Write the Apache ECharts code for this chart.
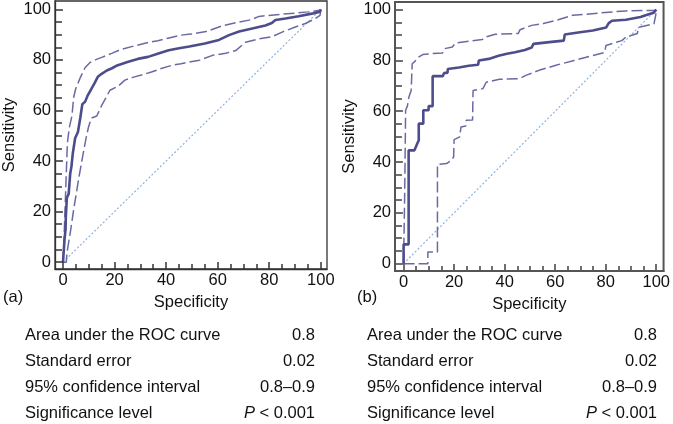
<!DOCTYPE html>
<html>
<head>
<meta charset="utf-8">
<script src="https://cdn.jsdelivr.net/npm/echarts@6/dist/echarts.min.js"></script>
<style>
html,body{margin:0;padding:0;background:#fff;}
#chart{width:673px;height:424px;}
</style>
</head>
<body>
<div id="chart"></div>
<script>
// ---------- data ----------
const tickLabels = [0, 20, 40, 60, 80, 100];
const tickMarks = [0, 5, 10, 15, 20, 25, 30, 35, 40, 45, 50, 55, 60, 65, 70, 75, 80, 85, 90, 95, 100];
const xAxisName = 'Specificity';
const yAxisName = 'Sensitivity';
const panelLabels = ['(a)', '(b)'];

const diagonal = [[0, 0], [100, 100]];

const rocA = [[0,0],[0.3,0],[0.6,9],[1.0,13],[1.1,18],[1.5,25.5],[2.2,27],[2.8,35],[3.3,38],[3.8,43],[4.7,49],[5.8,51.5],[6.7,57],[7.5,62.5],[8.6,63.5],[9.6,66],[11,68.5],[12.2,70.7],[13.5,73.3],[15,74.5],[17,75.8],[19,76.7],[21,77.8],[25,79.2],[29,80.4],[33,81.2],[37,82.5],[41,83.8],[45,84.6],[49,85.3],[55,86.5],[60.5,87.9],[64.4,89.8],[68.3,91.2],[73.4,92.4],[78.5,93.6],[81,94.6],[82.4,95.8],[86.3,96.4],[91.4,97.3],[96.5,98.3],[99.7,99.1],[100,100]];
const upperA = [[0,0],[0.4,9],[0.8,21],[1.2,33],[1.7,47],[2.4,53],[3.5,58],[4.1,65],[4.9,68.5],[6.7,73],[8.6,77],[10.5,79],[12.5,80],[15,81],[18.9,82.6],[22.7,84.2],[27.9,85.6],[33,86.9],[36.8,87.6],[40.7,88.6],[45.8,89.8],[49.6,90.2],[55.5,91.2],[61.9,93.5],[68.3,95],[73,95.9],[76,97.2],[85,98.1],[90.1,98.5],[95,99],[99.1,99.5],[100,100]];
const lowerA = [[0,0],[1.3,0],[1.5,3.5],[2.8,11.5],[4.1,20.5],[6,32.5],[7.3,40],[8.8,48.3],[9.9,53.5],[11,57],[13.1,57.8],[15,62],[16.9,65.5],[18.2,68],[21.4,69.6],[24,72],[27.4,73.2],[30.4,74],[34.3,75.2],[38.1,76.6],[42,77.8],[45.8,78.5],[49.6,79.3],[52.9,79.9],[58,81.8],[63.1,82.6],[67,83.7],[70.8,87],[76,88.3],[81.1,89.2],[85,91],[90.1,93],[94,94.4],[97.8,96.3],[99.7,97.6],[100,100]];

const rocB = [[0,0],[0,7.6],[2,7.6],[2,44.6],[4.3,44.6],[5.5,47.5],[6,48.5],[6,55.1],[7.8,55.1],[7.8,60.4],[9.9,60.4],[9.9,62],[11.5,62],[11.5,73.8],[15.5,73.8],[16,75],[17.4,75.2],[17.5,76.6],[21.9,77.2],[25.8,77.9],[29.5,78.3],[29.8,80],[33.7,80.6],[37.6,81.8],[40.9,82.6],[44.1,83.2],[48,84.1],[50.7,85.1],[51.4,86.5],[58.6,87.3],[63.4,87.8],[63.8,90.2],[69.1,91],[74.9,91.8],[80.2,93],[81.2,94.7],[82.5,95.6],[88,96],[93.8,97.1],[95.8,97.8],[99,98.8],[99.5,99.5],[100,100]];
const upperB = [[0,0],[0.4,0],[0.4,25],[0.7,51],[0.8,60.4],[1.5,62],[2.1,65.6],[3,68.2],[3.4,78.7],[4.3,79.4],[5.6,81.1],[7.6,82.3],[11.5,82.7],[15.4,82.9],[16.1,84.6],[19.3,85.3],[20.6,86.9],[27.2,87.7],[31.1,88.2],[32.4,89.2],[36.3,90.3],[45.4,90.6],[46.1,92.1],[50.7,93.8],[55.3,94.5],[60.5,95.8],[67,97.8],[72.3,98.2],[82.7,99.1],[88,99.5],[99.7,99.7],[100,100]];
const lowerB = [[0,0],[9.6,0],[9.6,4.6],[13.4,4.6],[13.4,39],[17,39.4],[18.7,40.5],[19.8,42],[20,48.8],[22.2,49.9],[22.7,53.8],[24.6,54.2],[24.8,56.4],[27.3,56.5],[27.5,68.2],[31.4,68.9],[32.7,71.4],[37.9,72.6],[45.8,72.8],[48.4,74.1],[53.6,76.1],[60.3,78.1],[67.5,80],[73.5,81.6],[79.6,83.1],[80.1,85.9],[86.4,87.8],[88,89.2],[92.5,90.6],[93,93],[99.1,94.4],[99.8,97.8],[100,100]];

const tableLabels = ['Area under the ROC curve', 'Standard error', '95% confidence interval', 'Significance level'];
const tableValuesA = ['0.8', '0.02', '0.8\u20130.9', 'P < 0.001'];
const tableValuesB = ['0.8', '0.02', '0.8\u20130.9', 'P < 0.001'];

// ---------- layout / style ----------
const FONT = '"Liberation Sans", Arial, Helvetica, sans-serif';
const TXT = '#111';
const FS = 16.5;
const panels = [
  {grid: {left: 53, top: 1, width: 274, height: 268}, xr: [-3.1, 102.4], yr: [-2.7, 103.3], bw: 1.3, bc: '#333', tw: 1.5,
   roc: rocA, up: upperA, lo: lowerA, label: panelLabels[0], lx: 3, table: {x0: 25, x1: 315, vals: tableValuesA}},
  {grid: {left: 395, top: 2, width: 271, height: 269}, xr: [-3.4, 102.9], yr: [-2.9, 103], bw: 2, bc: '#555', tw: 1.7,
   roc: rocB, up: upperB, lo: lowerB, label: panelLabels[1], lx: 357, table: {x0: 367, x1: 657, vals: tableValuesB}}
];

const grids = [], xAxes = [], yAxes = [], series = [], graphics = [];
panels.forEach((p, i) => {
  grids.push(Object.assign({show: true, borderColor: p.bc, borderWidth: p.bw}, p.grid));
  xAxes.push({gridIndex: i, type: 'value', min: p.xr[0], max: p.xr[1],
    name: xAxisName, nameLocation: 'middle', nameGap: 21,
    nameTextStyle: {fontFamily: FONT, fontSize: FS, color: TXT},
    axisLine: {show: true, onZero: false, lineStyle: {color: p.bc, width: p.bw}},
    splitLine: {show: false}, axisTick: {show: false},
    axisLabel: {customValues: tickLabels, margin: 3, fontFamily: FONT, fontSize: FS, color: TXT}});
  yAxes.push({gridIndex: i, type: 'value', min: p.yr[0], max: p.yr[1],
    name: yAxisName, nameLocation: 'middle', nameGap: 37,
    nameTextStyle: {fontFamily: FONT, fontSize: FS, color: TXT},
    axisLine: {show: true, onZero: false, lineStyle: {color: p.bc, width: p.bw}},
    splitLine: {show: false}, axisTick: {show: false},
    axisLabel: {customValues: tickLabels, margin: 4, fontFamily: FONT, fontSize: FS, color: TXT}});

  // tick marks: short segments from the frame edge inward, placed by the axis scales
  const pxX = (p.xr[1] - p.xr[0]) / p.grid.width;   // data units per pixel, x
  const pxY = (p.yr[1] - p.yr[0]) / p.grid.height;  // data units per pixel, y
  const xTickLines = tickMarks.map(v => {
    const len = (tickLabels.indexOf(v) >= 0 ? 7 : 5) * pxY;
    return {coords: [[v, p.yr[0]], [v, p.yr[0] + len]]};
  });
  const yTickLines = tickMarks.map(v => {
    const len = (tickLabels.indexOf(v) >= 0 ? 8 : 7) * pxX;
    return {coords: [[p.xr[0], v], [p.xr[0] + len, v]]};
  });
  series.push({type: 'lines', coordinateSystem: 'cartesian2d', xAxisIndex: i, yAxisIndex: i,
    silent: true, clip: false, z: 6, polyline: false, data: xTickLines.concat(yTickLines),
    lineStyle: {color: p.bc, width: p.tw, opacity: 1, curveness: 0}});

  series.push({type: 'line', xAxisIndex: i, yAxisIndex: i, data: diagonal, showSymbol: false, silent: true,
    lineStyle: {color: '#8fb3dc', width: 1.2, type: [2, 2]}});
  series.push({type: 'line', xAxisIndex: i, yAxisIndex: i, data: p.up, showSymbol: false, silent: true,
    lineStyle: {color: '#6a6aa2', width: 1.5, type: [11, 4]}});
  series.push({type: 'line', xAxisIndex: i, yAxisIndex: i, data: p.lo, showSymbol: false, silent: true,
    lineStyle: {color: '#6a6aa2', width: 1.5, type: [11, 4]}});
  series.push({type: 'line', xAxisIndex: i, yAxisIndex: i, data: p.roc, showSymbol: false, silent: true,
    lineStyle: {color: '#4d4d8c', width: 2.6}});

  graphics.push({type: 'text', left: p.lx, top: 289, silent: true,
    style: {text: p.label, fontFamily: FONT, fontSize: FS, fill: TXT}});

  const rowY = [335, 361, 387, 413];
  tableLabels.forEach((lab, r) => {
    graphics.push({type: 'text', x: p.table.x0, y: rowY[r], silent: true,
      style: {text: lab, fontFamily: FONT, fontSize: FS, fill: TXT, verticalAlign: 'middle', align: 'left'}});
    const v = p.table.vals[r];
    const isP = v.indexOf('P ') === 0;
    graphics.push({type: 'text', x: p.table.x1, y: rowY[r], silent: true,
      style: {text: isP ? '{i|P}{n|' + v.slice(1) + '}' : v,
        rich: {i: {fontStyle: 'italic', fontFamily: FONT, fontSize: FS, fill: TXT}, n: {fontFamily: FONT, fontSize: FS, fill: TXT}},
        fontFamily: FONT, fontSize: FS, fill: TXT, verticalAlign: 'middle', align: 'right'}});
  });
});

const chart = echarts.init(document.getElementById('chart'), null, {renderer: 'canvas'});
chart.setOption({
  animation: false,
  backgroundColor: '#fff',
  grid: grids,
  xAxis: xAxes,
  yAxis: yAxes,
  series: series,
  graphic: graphics
});
</script>
</body>
</html>
